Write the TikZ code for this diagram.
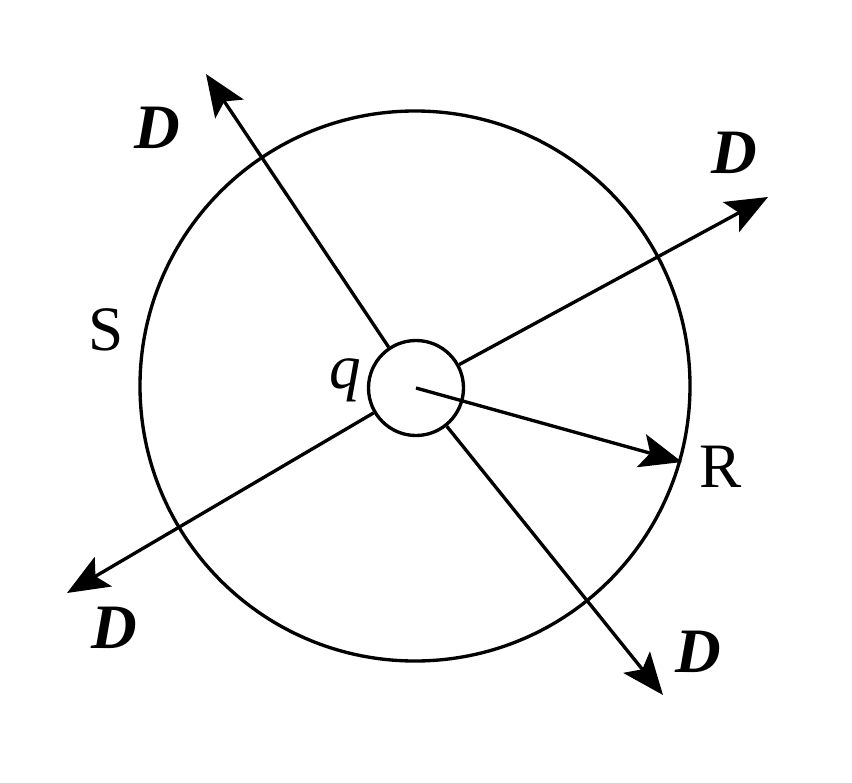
\documentclass[tikz,border=0pt]{standalone}
\usepackage{fontspec}
\setmainfont{Liberation Serif}
\usetikzlibrary{arrows.meta}

\begin{document}
\begin{tikzpicture}[line width=1.9pt,
  >={Stealth[length=8.4mm,width=6.8mm,inset=1.8mm]},
  lbl/.style={inner sep=0pt,font=\fontsize{36}{40}\selectfont}]
\useasboundingbox (-8.32,-7.88) rectangle (8.72,7.76);

\node[draw,circle,minimum size=1.9cm,inner sep=0pt] (q0) at (0,0) {};

\node[draw,circle,minimum size=11cm,inner sep=0pt] (S0) at (-0.02,0.04) {};

\coordinate (d1) at (-4.2,6.28);
\coordinate (d2) at (7.04,3.82);
\coordinate (d3) at (-6.98,-4.1);
\coordinate (d4) at (4.94,-6.14);
\coordinate (r) at (5.32,-1.48);

\node[lbl] (D1) at (-5.18,5.2) {\textbf{\textit{D}}};
\node[lbl] (D2) at (6.36,4.7) {\textbf{\textit{D}}};
\node[lbl] (D3) at (-6.04,-4.8) {\textbf{\textit{D}}};
\node[lbl] (D4) at (5.64,-5.28) {\textbf{\textit{D}}};
\node[lbl] (S) at (-6.2,1.16) {S};
\node[lbl] (q) at (-1.42,0.16) {\textit{q}};
\node[lbl] (R) at (6.1,-1.58) {R};

\draw[->] (q0) -- (d1);
\draw[->] (q0) -- (d2);
\draw[->] (q0) -- (d3);
\draw[->] (q0) -- (d4);
\draw[->] (q0.center) -- (r);
\end{tikzpicture}
\end{document}
